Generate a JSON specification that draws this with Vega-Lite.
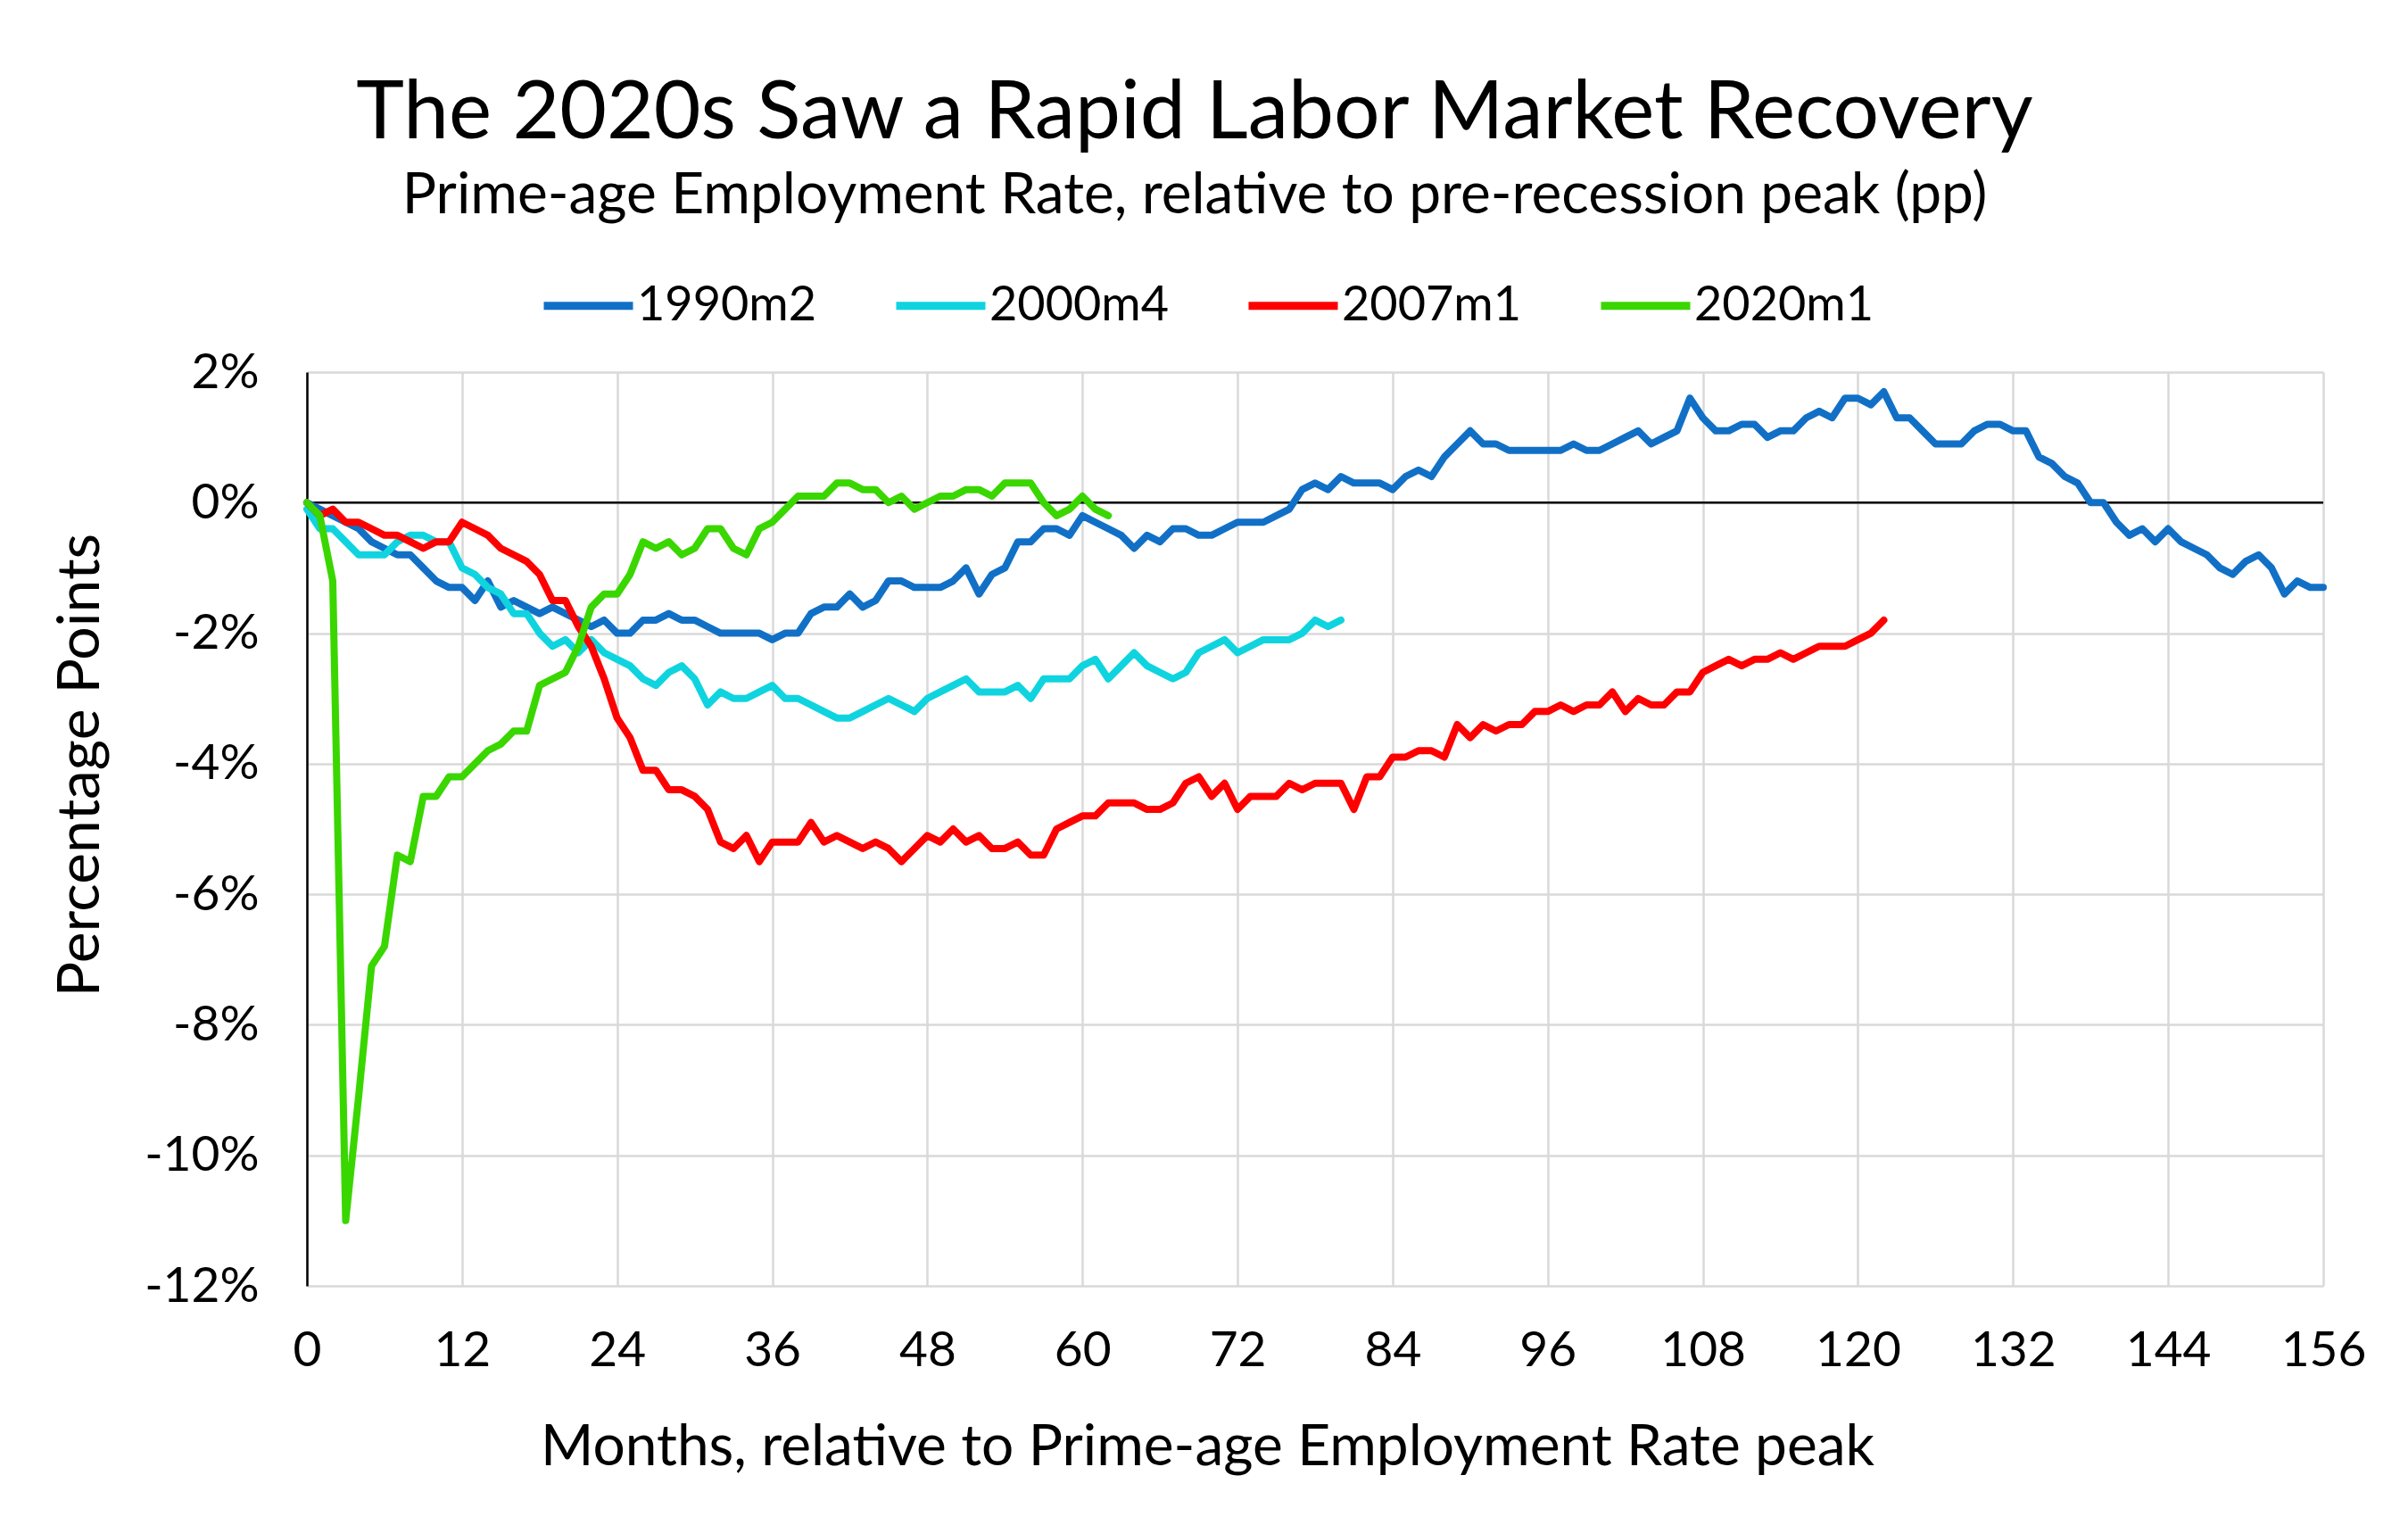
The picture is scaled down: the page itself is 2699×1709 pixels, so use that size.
{
  "$schema": "https://vega.github.io/schema/vega-lite/v6.json",
  "width": 2260,
  "height": 1024,
  "autosize": {"type": "none"},
  "padding": {"left": 344, "top": 417, "right": 95, "bottom": 268},
  "background": "white",
  "config": {
    "font": "Lato",
    "view": {"stroke": null}
  },
  "title": {
    "text": "The 2020s Saw a Rapid Labor Market Recovery",
    "subtitle": "Prime-age Employment Rate, relative to pre-recession peak (pp)",
    "font": "Lato",
    "subtitleFont": "Lato",
    "fontSize": 91,
    "subtitleFontSize": 64,
    "fontWeight": "normal",
    "subtitleFontWeight": "normal",
    "color": "black",
    "subtitleColor": "black",
    "anchor": "middle",
    "frame": "group",
    "dx": -135,
    "offset": 35,
    "subtitlePadding": 14
  },
  "encoding": {
    "y": {
      "field": "v",
      "type": "quantitative",
      "scale": {"domain": [-12, 2], "nice": false, "zero": false},
      "axis": {
        "values": [-12, -10, -8, -6, -4, -2, 0, 2],
        "labelExpr": "datum.value + '%'",
        "grid": true,
        "gridColor": "#D9D9D9",
        "gridWidth": 2.5,
        "domain": true,
        "domainColor": "black",
        "domainWidth": 2.5,
        "ticks": false,
        "tickSize": 0,
        "labelFont": "Lato",
        "labelFontSize": 55,
        "labelColor": "black",
        "labelPadding": 54,
        "title": "Percentage Points",
        "titleFont": "Lato",
        "titleFontSize": 66,
        "titleFontWeight": "normal",
        "titleColor": "black",
        "titleAngle": 270,
        "titleBaseline": "alphabetic",
        "titleX": -234,
        "titleY": 440
      }
    }
  },
  "layer": [
    {
      "data": {"values": [{"v": 0}]},
      "mark": {"type": "rule", "color": "black", "strokeWidth": 2.5}
    },
    {
      "data": {"values": [
        {"s":"1990m2","m":0,"v":0},{"s":"1990m2","m":1,"v":-0.1},{"s":"1990m2","m":2,"v":-0.2},{"s":"1990m2","m":3,"v":-0.3},{"s":"1990m2","m":4,"v":-0.4},{"s":"1990m2","m":5,"v":-0.6},{"s":"1990m2","m":6,"v":-0.7},{"s":"1990m2","m":7,"v":-0.8},{"s":"1990m2","m":8,"v":-0.8},{"s":"1990m2","m":9,"v":-1.0},
        {"s":"1990m2","m":10,"v":-1.2},{"s":"1990m2","m":11,"v":-1.3},{"s":"1990m2","m":12,"v":-1.3},{"s":"1990m2","m":13,"v":-1.5},{"s":"1990m2","m":14,"v":-1.2},{"s":"1990m2","m":15,"v":-1.6},{"s":"1990m2","m":16,"v":-1.5},{"s":"1990m2","m":17,"v":-1.6},{"s":"1990m2","m":18,"v":-1.7},{"s":"1990m2","m":19,"v":-1.6},
        {"s":"1990m2","m":20,"v":-1.7},{"s":"1990m2","m":21,"v":-1.8},{"s":"1990m2","m":22,"v":-1.9},{"s":"1990m2","m":23,"v":-1.8},{"s":"1990m2","m":24,"v":-2.0},{"s":"1990m2","m":25,"v":-2.0},{"s":"1990m2","m":26,"v":-1.8},{"s":"1990m2","m":27,"v":-1.8},{"s":"1990m2","m":28,"v":-1.7},{"s":"1990m2","m":29,"v":-1.8},
        {"s":"1990m2","m":30,"v":-1.8},{"s":"1990m2","m":31,"v":-1.9},{"s":"1990m2","m":32,"v":-2.0},{"s":"1990m2","m":33,"v":-2.0},{"s":"1990m2","m":34,"v":-2.0},{"s":"1990m2","m":35,"v":-2.0},{"s":"1990m2","m":36,"v":-2.1},{"s":"1990m2","m":37,"v":-2.0},{"s":"1990m2","m":38,"v":-2.0},{"s":"1990m2","m":39,"v":-1.7},
        {"s":"1990m2","m":40,"v":-1.6},{"s":"1990m2","m":41,"v":-1.6},{"s":"1990m2","m":42,"v":-1.4},{"s":"1990m2","m":43,"v":-1.6},{"s":"1990m2","m":44,"v":-1.5},{"s":"1990m2","m":45,"v":-1.2},{"s":"1990m2","m":46,"v":-1.2},{"s":"1990m2","m":47,"v":-1.3},{"s":"1990m2","m":48,"v":-1.3},{"s":"1990m2","m":49,"v":-1.3},
        {"s":"1990m2","m":50,"v":-1.2},{"s":"1990m2","m":51,"v":-1.0},{"s":"1990m2","m":52,"v":-1.4},{"s":"1990m2","m":53,"v":-1.1},{"s":"1990m2","m":54,"v":-1.0},{"s":"1990m2","m":55,"v":-0.6},{"s":"1990m2","m":56,"v":-0.6},{"s":"1990m2","m":57,"v":-0.4},{"s":"1990m2","m":58,"v":-0.4},{"s":"1990m2","m":59,"v":-0.5},
        {"s":"1990m2","m":60,"v":-0.2},{"s":"1990m2","m":61,"v":-0.3},{"s":"1990m2","m":62,"v":-0.4},{"s":"1990m2","m":63,"v":-0.5},{"s":"1990m2","m":64,"v":-0.7},{"s":"1990m2","m":65,"v":-0.5},{"s":"1990m2","m":66,"v":-0.6},{"s":"1990m2","m":67,"v":-0.4},{"s":"1990m2","m":68,"v":-0.4},{"s":"1990m2","m":69,"v":-0.5},
        {"s":"1990m2","m":70,"v":-0.5},{"s":"1990m2","m":71,"v":-0.4},{"s":"1990m2","m":72,"v":-0.3},{"s":"1990m2","m":73,"v":-0.3},{"s":"1990m2","m":74,"v":-0.3},{"s":"1990m2","m":75,"v":-0.2},{"s":"1990m2","m":76,"v":-0.1},{"s":"1990m2","m":77,"v":0.2},{"s":"1990m2","m":78,"v":0.3},{"s":"1990m2","m":79,"v":0.2},
        {"s":"1990m2","m":80,"v":0.4},{"s":"1990m2","m":81,"v":0.3},{"s":"1990m2","m":82,"v":0.3},{"s":"1990m2","m":83,"v":0.3},{"s":"1990m2","m":84,"v":0.2},{"s":"1990m2","m":85,"v":0.4},{"s":"1990m2","m":86,"v":0.5},{"s":"1990m2","m":87,"v":0.4},{"s":"1990m2","m":88,"v":0.7},{"s":"1990m2","m":89,"v":0.9},
        {"s":"1990m2","m":90,"v":1.1},{"s":"1990m2","m":91,"v":0.9},{"s":"1990m2","m":92,"v":0.9},{"s":"1990m2","m":93,"v":0.8},{"s":"1990m2","m":94,"v":0.8},{"s":"1990m2","m":95,"v":0.8},{"s":"1990m2","m":96,"v":0.8},{"s":"1990m2","m":97,"v":0.8},{"s":"1990m2","m":98,"v":0.9},{"s":"1990m2","m":99,"v":0.8},
        {"s":"1990m2","m":100,"v":0.8},{"s":"1990m2","m":101,"v":0.9},{"s":"1990m2","m":102,"v":1.0},{"s":"1990m2","m":103,"v":1.1},{"s":"1990m2","m":104,"v":0.9},{"s":"1990m2","m":105,"v":1.0},{"s":"1990m2","m":106,"v":1.1},{"s":"1990m2","m":107,"v":1.6},{"s":"1990m2","m":108,"v":1.3},{"s":"1990m2","m":109,"v":1.1},
        {"s":"1990m2","m":110,"v":1.1},{"s":"1990m2","m":111,"v":1.2},{"s":"1990m2","m":112,"v":1.2},{"s":"1990m2","m":113,"v":1.0},{"s":"1990m2","m":114,"v":1.1},{"s":"1990m2","m":115,"v":1.1},{"s":"1990m2","m":116,"v":1.3},{"s":"1990m2","m":117,"v":1.4},{"s":"1990m2","m":118,"v":1.3},{"s":"1990m2","m":119,"v":1.6},
        {"s":"1990m2","m":120,"v":1.6},{"s":"1990m2","m":121,"v":1.5},{"s":"1990m2","m":122,"v":1.7},{"s":"1990m2","m":123,"v":1.3},{"s":"1990m2","m":124,"v":1.3},{"s":"1990m2","m":125,"v":1.1},{"s":"1990m2","m":126,"v":0.9},{"s":"1990m2","m":127,"v":0.9},{"s":"1990m2","m":128,"v":0.9},{"s":"1990m2","m":129,"v":1.1},
        {"s":"1990m2","m":130,"v":1.2},{"s":"1990m2","m":131,"v":1.2},{"s":"1990m2","m":132,"v":1.1},{"s":"1990m2","m":133,"v":1.1},{"s":"1990m2","m":134,"v":0.7},{"s":"1990m2","m":135,"v":0.6},{"s":"1990m2","m":136,"v":0.4},{"s":"1990m2","m":137,"v":0.3},{"s":"1990m2","m":138,"v":0.0},{"s":"1990m2","m":139,"v":0.0},
        {"s":"1990m2","m":140,"v":-0.3},{"s":"1990m2","m":141,"v":-0.5},{"s":"1990m2","m":142,"v":-0.4},{"s":"1990m2","m":143,"v":-0.6},{"s":"1990m2","m":144,"v":-0.4},{"s":"1990m2","m":145,"v":-0.6},{"s":"1990m2","m":146,"v":-0.7},{"s":"1990m2","m":147,"v":-0.8},{"s":"1990m2","m":148,"v":-1.0},{"s":"1990m2","m":149,"v":-1.1},
        {"s":"1990m2","m":150,"v":-0.9},{"s":"1990m2","m":151,"v":-0.8},{"s":"1990m2","m":152,"v":-1.0},{"s":"1990m2","m":153,"v":-1.4},{"s":"1990m2","m":154,"v":-1.2},{"s":"1990m2","m":155,"v":-1.3},{"s":"1990m2","m":156,"v":-1.3},

        {"s":"2000m4","m":0,"v":-0.1},{"s":"2000m4","m":1,"v":-0.4},{"s":"2000m4","m":2,"v":-0.4},{"s":"2000m4","m":3,"v":-0.6},{"s":"2000m4","m":4,"v":-0.8},{"s":"2000m4","m":5,"v":-0.8},{"s":"2000m4","m":6,"v":-0.8},{"s":"2000m4","m":7,"v":-0.6},{"s":"2000m4","m":8,"v":-0.5},{"s":"2000m4","m":9,"v":-0.5},
        {"s":"2000m4","m":10,"v":-0.6},{"s":"2000m4","m":11,"v":-0.6},{"s":"2000m4","m":12,"v":-1.0},{"s":"2000m4","m":13,"v":-1.1},{"s":"2000m4","m":14,"v":-1.3},{"s":"2000m4","m":15,"v":-1.4},{"s":"2000m4","m":16,"v":-1.7},{"s":"2000m4","m":17,"v":-1.7},{"s":"2000m4","m":18,"v":-2.0},{"s":"2000m4","m":19,"v":-2.2},
        {"s":"2000m4","m":20,"v":-2.1},{"s":"2000m4","m":21,"v":-2.3},{"s":"2000m4","m":22,"v":-2.1},{"s":"2000m4","m":23,"v":-2.3},{"s":"2000m4","m":24,"v":-2.4},{"s":"2000m4","m":25,"v":-2.5},{"s":"2000m4","m":26,"v":-2.7},{"s":"2000m4","m":27,"v":-2.8},{"s":"2000m4","m":28,"v":-2.6},{"s":"2000m4","m":29,"v":-2.5},
        {"s":"2000m4","m":30,"v":-2.7},{"s":"2000m4","m":31,"v":-3.1},{"s":"2000m4","m":32,"v":-2.9},{"s":"2000m4","m":33,"v":-3.0},{"s":"2000m4","m":34,"v":-3.0},{"s":"2000m4","m":35,"v":-2.9},{"s":"2000m4","m":36,"v":-2.8},{"s":"2000m4","m":37,"v":-3.0},{"s":"2000m4","m":38,"v":-3.0},{"s":"2000m4","m":39,"v":-3.1},
        {"s":"2000m4","m":40,"v":-3.2},{"s":"2000m4","m":41,"v":-3.3},{"s":"2000m4","m":42,"v":-3.3},{"s":"2000m4","m":43,"v":-3.2},{"s":"2000m4","m":44,"v":-3.1},{"s":"2000m4","m":45,"v":-3.0},{"s":"2000m4","m":46,"v":-3.1},{"s":"2000m4","m":47,"v":-3.2},{"s":"2000m4","m":48,"v":-3.0},{"s":"2000m4","m":49,"v":-2.9},
        {"s":"2000m4","m":50,"v":-2.8},{"s":"2000m4","m":51,"v":-2.7},{"s":"2000m4","m":52,"v":-2.9},{"s":"2000m4","m":53,"v":-2.9},{"s":"2000m4","m":54,"v":-2.9},{"s":"2000m4","m":55,"v":-2.8},{"s":"2000m4","m":56,"v":-3.0},{"s":"2000m4","m":57,"v":-2.7},{"s":"2000m4","m":58,"v":-2.7},{"s":"2000m4","m":59,"v":-2.7},
        {"s":"2000m4","m":60,"v":-2.5},{"s":"2000m4","m":61,"v":-2.4},{"s":"2000m4","m":62,"v":-2.7},{"s":"2000m4","m":63,"v":-2.5},{"s":"2000m4","m":64,"v":-2.3},{"s":"2000m4","m":65,"v":-2.5},{"s":"2000m4","m":66,"v":-2.6},{"s":"2000m4","m":67,"v":-2.7},{"s":"2000m4","m":68,"v":-2.6},{"s":"2000m4","m":69,"v":-2.3},
        {"s":"2000m4","m":70,"v":-2.2},{"s":"2000m4","m":71,"v":-2.1},{"s":"2000m4","m":72,"v":-2.3},{"s":"2000m4","m":73,"v":-2.2},{"s":"2000m4","m":74,"v":-2.1},{"s":"2000m4","m":75,"v":-2.1},{"s":"2000m4","m":76,"v":-2.1},{"s":"2000m4","m":77,"v":-2.0},{"s":"2000m4","m":78,"v":-1.8},{"s":"2000m4","m":79,"v":-1.9},
        {"s":"2000m4","m":80,"v":-1.8},

        {"s":"2007m1","m":0,"v":0},{"s":"2007m1","m":1,"v":-0.2},{"s":"2007m1","m":2,"v":-0.1},{"s":"2007m1","m":3,"v":-0.3},{"s":"2007m1","m":4,"v":-0.3},{"s":"2007m1","m":5,"v":-0.4},{"s":"2007m1","m":6,"v":-0.5},{"s":"2007m1","m":7,"v":-0.5},{"s":"2007m1","m":8,"v":-0.6},{"s":"2007m1","m":9,"v":-0.7},
        {"s":"2007m1","m":10,"v":-0.6},{"s":"2007m1","m":11,"v":-0.6},{"s":"2007m1","m":12,"v":-0.3},{"s":"2007m1","m":13,"v":-0.4},{"s":"2007m1","m":14,"v":-0.5},{"s":"2007m1","m":15,"v":-0.7},{"s":"2007m1","m":16,"v":-0.8},{"s":"2007m1","m":17,"v":-0.9},{"s":"2007m1","m":18,"v":-1.1},{"s":"2007m1","m":19,"v":-1.5},
        {"s":"2007m1","m":20,"v":-1.5},{"s":"2007m1","m":21,"v":-1.9},{"s":"2007m1","m":22,"v":-2.2},{"s":"2007m1","m":23,"v":-2.7},{"s":"2007m1","m":24,"v":-3.3},{"s":"2007m1","m":25,"v":-3.6},{"s":"2007m1","m":26,"v":-4.1},{"s":"2007m1","m":27,"v":-4.1},{"s":"2007m1","m":28,"v":-4.4},{"s":"2007m1","m":29,"v":-4.4},
        {"s":"2007m1","m":30,"v":-4.5},{"s":"2007m1","m":31,"v":-4.7},{"s":"2007m1","m":32,"v":-5.2},{"s":"2007m1","m":33,"v":-5.3},{"s":"2007m1","m":34,"v":-5.1},{"s":"2007m1","m":35,"v":-5.5},{"s":"2007m1","m":36,"v":-5.2},{"s":"2007m1","m":37,"v":-5.2},{"s":"2007m1","m":38,"v":-5.2},{"s":"2007m1","m":39,"v":-4.9},
        {"s":"2007m1","m":40,"v":-5.2},{"s":"2007m1","m":41,"v":-5.1},{"s":"2007m1","m":42,"v":-5.2},{"s":"2007m1","m":43,"v":-5.3},{"s":"2007m1","m":44,"v":-5.2},{"s":"2007m1","m":45,"v":-5.3},{"s":"2007m1","m":46,"v":-5.5},{"s":"2007m1","m":47,"v":-5.3},{"s":"2007m1","m":48,"v":-5.1},{"s":"2007m1","m":49,"v":-5.2},
        {"s":"2007m1","m":50,"v":-5.0},{"s":"2007m1","m":51,"v":-5.2},{"s":"2007m1","m":52,"v":-5.1},{"s":"2007m1","m":53,"v":-5.3},{"s":"2007m1","m":54,"v":-5.3},{"s":"2007m1","m":55,"v":-5.2},{"s":"2007m1","m":56,"v":-5.4},{"s":"2007m1","m":57,"v":-5.4},{"s":"2007m1","m":58,"v":-5.0},{"s":"2007m1","m":59,"v":-4.9},
        {"s":"2007m1","m":60,"v":-4.8},{"s":"2007m1","m":61,"v":-4.8},{"s":"2007m1","m":62,"v":-4.6},{"s":"2007m1","m":63,"v":-4.6},{"s":"2007m1","m":64,"v":-4.6},{"s":"2007m1","m":65,"v":-4.7},{"s":"2007m1","m":66,"v":-4.7},{"s":"2007m1","m":67,"v":-4.6},{"s":"2007m1","m":68,"v":-4.3},{"s":"2007m1","m":69,"v":-4.2},
        {"s":"2007m1","m":70,"v":-4.5},{"s":"2007m1","m":71,"v":-4.3},{"s":"2007m1","m":72,"v":-4.7},{"s":"2007m1","m":73,"v":-4.5},{"s":"2007m1","m":74,"v":-4.5},{"s":"2007m1","m":75,"v":-4.5},{"s":"2007m1","m":76,"v":-4.3},{"s":"2007m1","m":77,"v":-4.4},{"s":"2007m1","m":78,"v":-4.3},{"s":"2007m1","m":79,"v":-4.3},
        {"s":"2007m1","m":80,"v":-4.3},{"s":"2007m1","m":81,"v":-4.7},{"s":"2007m1","m":82,"v":-4.2},{"s":"2007m1","m":83,"v":-4.2},{"s":"2007m1","m":84,"v":-3.9},{"s":"2007m1","m":85,"v":-3.9},{"s":"2007m1","m":86,"v":-3.8},{"s":"2007m1","m":87,"v":-3.8},{"s":"2007m1","m":88,"v":-3.9},{"s":"2007m1","m":89,"v":-3.4},
        {"s":"2007m1","m":90,"v":-3.6},{"s":"2007m1","m":91,"v":-3.4},{"s":"2007m1","m":92,"v":-3.5},{"s":"2007m1","m":93,"v":-3.4},{"s":"2007m1","m":94,"v":-3.4},{"s":"2007m1","m":95,"v":-3.2},{"s":"2007m1","m":96,"v":-3.2},{"s":"2007m1","m":97,"v":-3.1},{"s":"2007m1","m":98,"v":-3.2},{"s":"2007m1","m":99,"v":-3.1},
        {"s":"2007m1","m":100,"v":-3.1},{"s":"2007m1","m":101,"v":-2.9},{"s":"2007m1","m":102,"v":-3.2},{"s":"2007m1","m":103,"v":-3.0},{"s":"2007m1","m":104,"v":-3.1},{"s":"2007m1","m":105,"v":-3.1},{"s":"2007m1","m":106,"v":-2.9},{"s":"2007m1","m":107,"v":-2.9},{"s":"2007m1","m":108,"v":-2.6},{"s":"2007m1","m":109,"v":-2.5},
        {"s":"2007m1","m":110,"v":-2.4},{"s":"2007m1","m":111,"v":-2.5},{"s":"2007m1","m":112,"v":-2.4},{"s":"2007m1","m":113,"v":-2.4},{"s":"2007m1","m":114,"v":-2.3},{"s":"2007m1","m":115,"v":-2.4},{"s":"2007m1","m":116,"v":-2.3},{"s":"2007m1","m":117,"v":-2.2},{"s":"2007m1","m":118,"v":-2.2},{"s":"2007m1","m":119,"v":-2.2},
        {"s":"2007m1","m":120,"v":-2.1},{"s":"2007m1","m":121,"v":-2.0},{"s":"2007m1","m":122,"v":-1.8},

        {"s":"2020m1","m":0,"v":0},{"s":"2020m1","m":1,"v":-0.2},{"s":"2020m1","m":2,"v":-1.2},{"s":"2020m1","m":3,"v":-11.0},{"s":"2020m1","m":4,"v":-9.1},{"s":"2020m1","m":5,"v":-7.1},{"s":"2020m1","m":6,"v":-6.8},{"s":"2020m1","m":7,"v":-5.4},{"s":"2020m1","m":8,"v":-5.5},{"s":"2020m1","m":9,"v":-4.5},
        {"s":"2020m1","m":10,"v":-4.5},{"s":"2020m1","m":11,"v":-4.2},{"s":"2020m1","m":12,"v":-4.2},{"s":"2020m1","m":13,"v":-4.0},{"s":"2020m1","m":14,"v":-3.8},{"s":"2020m1","m":15,"v":-3.7},{"s":"2020m1","m":16,"v":-3.5},{"s":"2020m1","m":17,"v":-3.5},{"s":"2020m1","m":18,"v":-2.8},{"s":"2020m1","m":19,"v":-2.7},
        {"s":"2020m1","m":20,"v":-2.6},{"s":"2020m1","m":21,"v":-2.2},{"s":"2020m1","m":22,"v":-1.6},{"s":"2020m1","m":23,"v":-1.4},{"s":"2020m1","m":24,"v":-1.4},{"s":"2020m1","m":25,"v":-1.1},{"s":"2020m1","m":26,"v":-0.6},{"s":"2020m1","m":27,"v":-0.7},{"s":"2020m1","m":28,"v":-0.6},{"s":"2020m1","m":29,"v":-0.8},
        {"s":"2020m1","m":30,"v":-0.7},{"s":"2020m1","m":31,"v":-0.4},{"s":"2020m1","m":32,"v":-0.4},{"s":"2020m1","m":33,"v":-0.7},{"s":"2020m1","m":34,"v":-0.8},{"s":"2020m1","m":35,"v":-0.4},{"s":"2020m1","m":36,"v":-0.3},{"s":"2020m1","m":37,"v":-0.1},{"s":"2020m1","m":38,"v":0.1},{"s":"2020m1","m":39,"v":0.1},
        {"s":"2020m1","m":40,"v":0.1},{"s":"2020m1","m":41,"v":0.3},{"s":"2020m1","m":42,"v":0.3},{"s":"2020m1","m":43,"v":0.2},{"s":"2020m1","m":44,"v":0.2},{"s":"2020m1","m":45,"v":0.0},{"s":"2020m1","m":46,"v":0.1},{"s":"2020m1","m":47,"v":-0.1},{"s":"2020m1","m":48,"v":0.0},{"s":"2020m1","m":49,"v":0.1},
        {"s":"2020m1","m":50,"v":0.1},{"s":"2020m1","m":51,"v":0.2},{"s":"2020m1","m":52,"v":0.2},{"s":"2020m1","m":53,"v":0.1},{"s":"2020m1","m":54,"v":0.3},{"s":"2020m1","m":55,"v":0.3},{"s":"2020m1","m":56,"v":0.3},{"s":"2020m1","m":57,"v":0.0},{"s":"2020m1","m":58,"v":-0.2},{"s":"2020m1","m":59,"v":-0.1},
        {"s":"2020m1","m":60,"v":0.1},{"s":"2020m1","m":61,"v":-0.1},{"s":"2020m1","m":62,"v":-0.2}
      ]},
      "mark": {"type": "line", "strokeWidth": 8, "strokeJoin": "round", "strokeCap": "round"},
      "encoding": {
        "x": {
          "field": "m",
          "type": "quantitative",
          "scale": {"domain": [0, 156], "nice": false, "zero": false},
          "axis": {
            "values": [0, 12, 24, 36, 48, 60, 72, 84, 96, 108, 120, 132, 144, 156],
            "format": "d",
            "grid": true,
            "gridColor": "#D9D9D9",
            "gridWidth": 2.5,
            "domain": false,
            "ticks": false,
            "tickSize": 0,
            "labelFont": "Lato",
            "labelFontSize": 55,
            "labelColor": "black",
            "labelPadding": 46,
            "labelFlush": false,
            "labelOverlap": false,
            "title": "Months, relative to Prime-age Employment Rate peak",
            "titleFont": "Lato",
            "titleFontSize": 64,
            "titleFontWeight": "normal",
            "titleColor": "black",
            "titleBaseline": "alphabetic",
            "titleX": 1009,
            "titleY": 200
          }
        },
        "color": {
          "field": "s",
          "type": "nominal",
          "scale": {
            "domain": ["1990m2", "2000m4", "2007m1", "2020m1"],
            "range": ["#1170C6", "#0FD4DF", "#FF0000", "#3AD600"]
          },
          "legend": {
            "orient": "none",
            "legendX": 261,
            "legendY": -129,
            "direction": "horizontal",
            "title": null,
            "padding": 0,
            "symbolType": "stroke",
            "symbolSize": 10000,
            "symbolStrokeWidth": 9,
            "labelFont": "Lato",
            "labelFontSize": 54,
            "labelColor": "black",
            "labelOffset": 0,
            "columnPadding": 70,
            "labelLimit": 0
          }
        }
      }
    }
  ]
}
